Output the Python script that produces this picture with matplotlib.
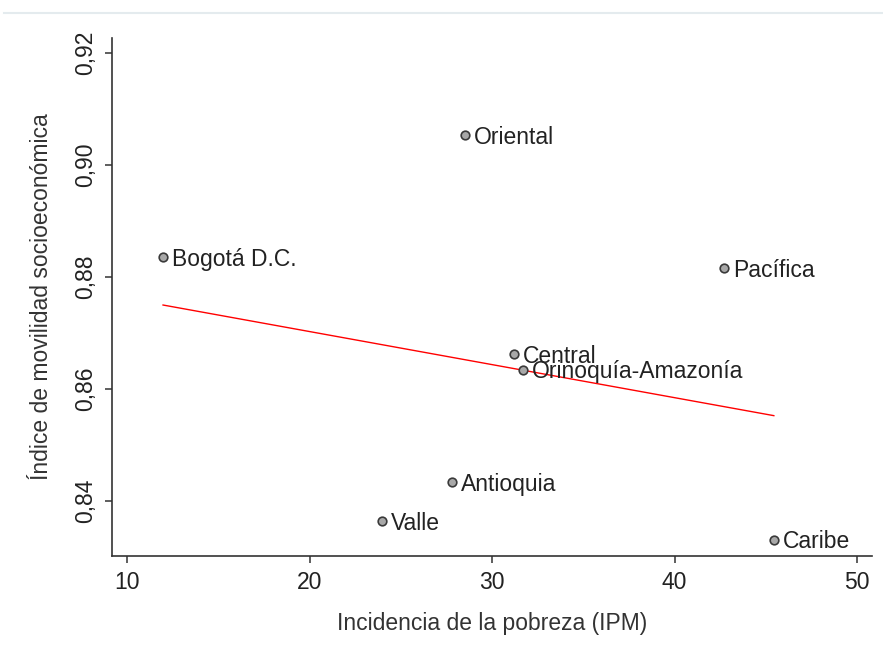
import numpy as np
import matplotlib
matplotlib.use("Agg")
import matplotlib.pyplot as plt
from matplotlib.lines import Line2D
from matplotlib.ticker import FuncFormatter

plt.rcParams['font.family'] = ['Liberation Sans', 'DejaVu Sans']

# regiones: incidencia de la pobreza (IPM) vs indice de movilidad
regions = ["Oriental", "Bogotá D.C.", "Pacífica", "Central",
           "Orinoquía-Amazonía", "Antioquia", "Valle", "Caribe"]
ipm = [28.5, 11.95, 42.7, 31.19, 31.68, 27.79, 23.95, 45.44]
movilidad = [0.9053, 0.8835, 0.8815, 0.8662, 0.8634, 0.8434, 0.8364, 0.8331]

x_ticks = [10, 20, 30, 40, 50]
y_ticks = [0.84, 0.86, 0.88, 0.90, 0.92]

text_col = '#222222'
axis_col = '#333333'

fig = plt.figure(figsize=(8.83, 6.56), dpi=100)
ax = fig.add_axes([0.1268, 0.1524, 0.8607, 0.7897])

# faint line at the top of the frame
fig.add_artist(Line2D([0.005, 1.0], [1 - 12.5 / 656, 1 - 12.5 / 656],
                      color='#e4ebee', lw=1.5, transform=fig.transFigure))

# linear fit
slope, intercept = np.polyfit(ipm, movilidad, 1)
xs = np.array([min(ipm), max(ipm)])
ax.plot(xs, intercept + slope * xs, color='red', lw=1.0, zorder=2)

ax.plot(ipm, movilidad, 'o', ms=6.2, mfc='#a8a8a8', mec='#3a3a3a',
        mew=1.2, zorder=3, clip_on=False)

for name, x, y in zip(regions, ipm, movilidad):
    ax.annotate(name, (x, y), xytext=(6.5, -1.5), textcoords='offset points',
                va='center', ha='left', fontsize=16.5, color=text_col)

ax.set_xlim(9.15, 50.82)
ax.set_ylim(0.8302, 0.9226)
ax.set_xticks(x_ticks)
ax.set_yticks(y_ticks)
ax.yaxis.set_major_formatter(FuncFormatter(lambda v, p: f"{v:.2f}".replace('.', ',')))

for s in ['top', 'right']:
    ax.spines[s].set_visible(False)
for s in ['left', 'bottom']:
    ax.spines[s].set_color(axis_col)
    ax.spines[s].set_linewidth(1.2)

ax.tick_params(axis='both', colors=axis_col, length=5, width=1.1,
               labelsize=16.5, labelcolor=text_col, pad=6)
for lab in ax.get_yticklabels():
    lab.set_rotation(90)
    lab.set_va('center')

ax.set_xlabel("Incidencia de la pobreza (IPM)", fontsize=16.5, color='#333333', labelpad=13)
ax.set_ylabel("Índice de movilidad socioeconómica", fontsize=16.5, color='#333333', labelpad=15)

fig.savefig("out.png", dpi=100)
